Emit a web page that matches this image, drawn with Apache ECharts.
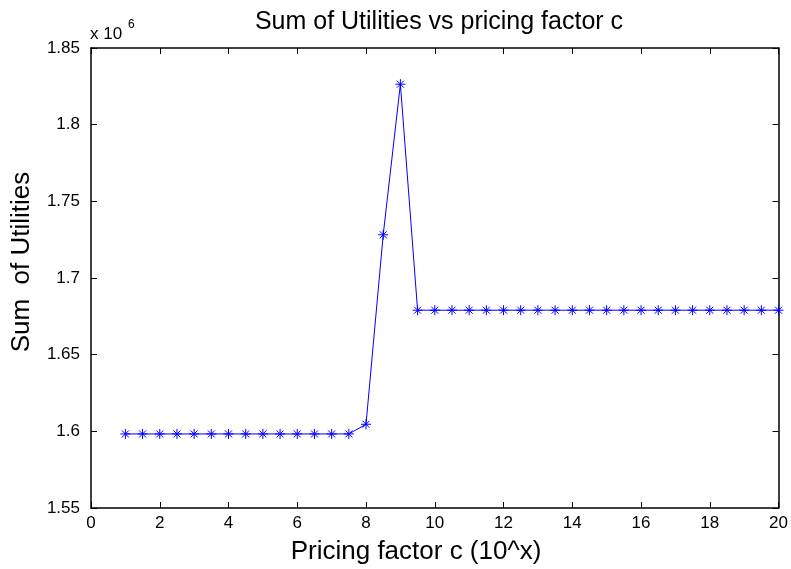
<!DOCTYPE html>
<html><head><meta charset="utf-8">
<script src="https://cdn.jsdelivr.net/npm/echarts@6/dist/echarts.min.js"></script>
<style>html,body{margin:0;padding:0;background:#fff}#c{width:791px;height:569px}</style>
</head><body><div id="c"></div>
<script>
const xValues = [1,1.5,2,2.5,3,3.5,4,4.5,5,5.5,6,6.5,7,7.5,8,8.5,9,9.5,10,10.5,11,11.5,12,12.5,13,13.5,14,14.5,15,15.5,16,16.5,17,17.5,18,18.5,19,19.5,20];
const sumUtilities = [1.5983,1.5983,1.5983,1.5983,1.5983,1.5983,1.5983,1.5983,1.5983,1.5983,1.5983,1.5983,1.5983,1.5983,1.6046,1.7282,1.8264,1.679,1.679,1.679,1.679,1.679,1.679,1.679,1.679,1.679,1.679,1.679,1.679,1.679,1.679,1.679,1.679,1.679,1.679,1.679,1.679,1.679,1.679];
const xTicks = [0,2,4,6,8,10,12,14,16,18,20];
const yTicks = [1.55,1.6,1.65,1.7,1.75,1.8,1.85];
const titleText = 'Sum of Utilities vs pricing factor c';
const xLabel = 'Pricing factor c (10^x)';
const yLabel = 'Sum  of Utilities';

const chart = echarts.init(document.getElementById('c'));
const font = 'Liberation Sans, Arial, sans-serif';
const star = 'path://M0,5 L10,5 M5,0 L5,10 M1.5,1.5 L8.5,8.5 M8.5,1.5 L1.5,8.5';
const fmt = (list) => v => list.find(t => Math.abs(t - v) < 1e-9) !== undefined ? String(+v.toFixed(2)) : '';
chart.setOption({
  animation: false,
  backgroundColor: '#fff',
  title: {text: titleText, left: 434, top: 5, textAlign: 'center',
    textStyle: {fontFamily: font, fontSize: 25, fontWeight: 'normal', color: '#000'}},
  graphic: [
    {type: 'text', left: 90, top: 26, style: {text: 'x 10', font: '17px ' + font, fill: '#000'}},
    {type: 'text', left: 128, top: 19, style: {text: '6', font: '12px ' + font, fill: '#000'}},
    {type: 'text', x: 416, y: 552, style: {text: xLabel, font: '26px ' + font, fill: '#000', textAlign: 'center', textVerticalAlign: 'middle'}},
    {type: 'text', x: 22, y: 262, rotation: Math.PI / 2, style: {text: yLabel, font: '26px ' + font, fill: '#000', textAlign: 'center', textVerticalAlign: 'middle'}}
  ],
  grid: {left: 91, top: 48, width: 692, height: 460, containLabel: false},
  xAxis: [{type: 'value', min: 0, max: 20, interval: 2,
    axisLine: {onZero: false, lineStyle: {color: '#000', width: 1.5}},
    axisTick: {inside: true, length: 6, lineStyle: {color: '#000'}},
    axisLabel: {fontFamily: font, fontSize: 17, color: '#000', margin: 7, formatter: fmt(xTicks)},
    splitLine: {show: false}},
   {type: 'value', position: 'top', min: 0, max: 20, interval: 2,
    axisLine: {onZero: false, lineStyle: {color: '#000', width: 1.5}},
    axisTick: {inside: true, length: 6, lineStyle: {color: '#000'}},
    axisLabel: {show: false}, splitLine: {show: false}}],
  yAxis: [{type: 'value', min: 1.55, max: 1.85, interval: 0.05,
    axisLine: {onZero: false, lineStyle: {color: '#000', width: 1.5}},
    axisTick: {inside: true, length: 6, lineStyle: {color: '#000'}},
    axisLabel: {fontFamily: font, fontSize: 17, color: '#000', margin: 11, formatter: fmt(yTicks)},
    splitLine: {show: false}},
   {type: 'value', position: 'right', min: 1.55, max: 1.85, interval: 0.05,
    axisLine: {onZero: false, lineStyle: {color: '#000', width: 1.5}},
    axisTick: {inside: true, length: 6, lineStyle: {color: '#000'}},
    axisLabel: {show: false}, splitLine: {show: false}}],
  series: [{type: 'line', xAxisIndex: 0, yAxisIndex: 0,
    data: xValues.map((x, i) => [x, sumUtilities[i]]),
    symbol: star, symbolSize: 10, showAllSymbol: true, clip: false,
    lineStyle: {color: '#0000ff', width: 1},
    itemStyle: {color: 'transparent', borderColor: '#0000ff', borderWidth: 1}}]
});
</script></body></html>
